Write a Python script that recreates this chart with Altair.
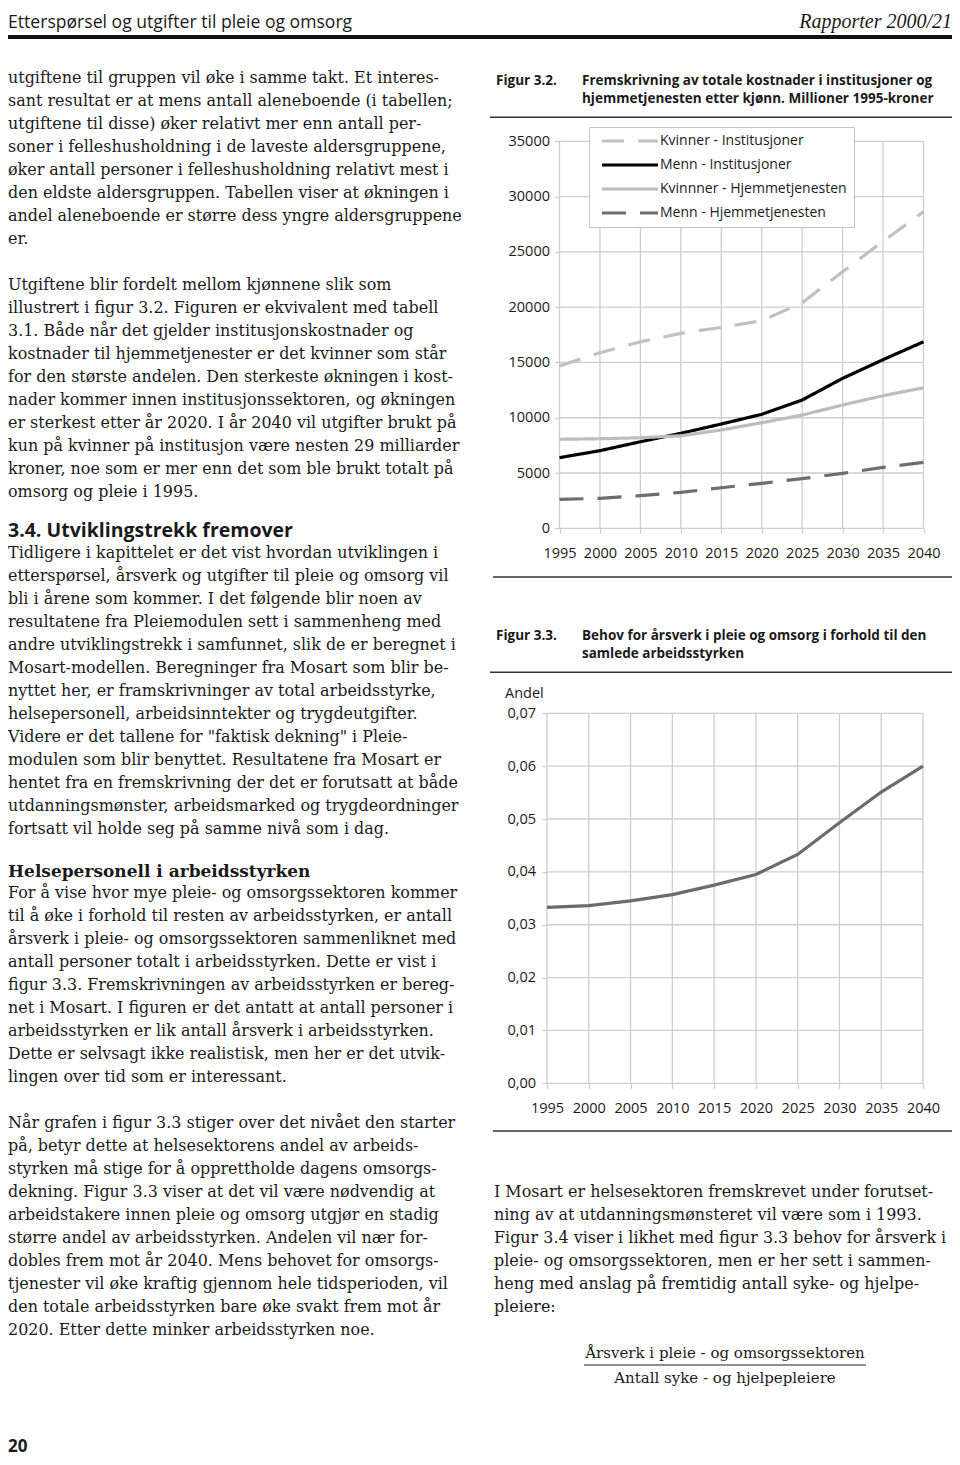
import altair as alt
import pandas as pd

# ---------------- data ----------------
years = [1995, 2000, 2005, 2010, 2015, 2020, 2025, 2030, 2035, 2040]
series_names = ["Kvinner - Institusjoner", "Menn - Institusjoner",
                "Kvinnner - Hjemmetjenesten", "Menn - Hjemmetjenesten"]
kvinner_institusjoner = [14680, 15880, 16870, 17630, 18170, 18770, 20400, 23200, 25960, 28630]
menn_institusjoner = [6390, 7020, 7830, 8590, 9430, 10310, 11600, 13560, 15250, 16870]
kvinner_hjemmetjenesten = [8050, 8100, 8190, 8370, 8890, 9550, 10240, 11150, 11990, 12710]
menn_hjemmetjenesten = [2620, 2710, 2950, 3250, 3670, 4070, 4490, 4970, 5510, 5970]
andel_arsverk = [0.0333, 0.0336, 0.0345, 0.0357, 0.0375, 0.0395, 0.0433, 0.0493, 0.0551, 0.0600]
fig32_y_ticks = [0, 5000, 10000, 15000, 20000, 25000, 30000, 35000]
fig33_y_ticks = [0.00, 0.01, 0.02, 0.03, 0.04, 0.05, 0.06, 0.07]

# ---------------- page text ----------------
header_left = "Etterspørsel og utgifter til pleie og omsorg"
header_right = "Rapporter 2000/21"
fig32_label = "Figur 3.2."
fig32_title = ["Fremskrivning av totale kostnader i institusjoner og",
               "hjemmetjenesten etter kjønn. Millioner 1995-kroner"]
fig33_label = "Figur 3.3."
fig33_title = ["Behov for årsverk i pleie og omsorg i forhold til den",
               "samlede arbeidsstyrken"]
fig33_axis_title = "Andel"
left_p1 = [
    "utgiftene til gruppen vil øke i samme takt. Et interes-",
    "sant resultat er at mens antall aleneboende (i tabellen;",
    "utgiftene til disse) øker relativt mer enn antall per-",
    "soner i felleshusholdning i de laveste aldersgruppene,",
    "øker antall personer i felleshusholdning relativt mest i",
    "den eldste aldersgruppen. Tabellen viser at økningen i",
    "andel aleneboende er større dess yngre aldersgruppene",
    "er.",
]
left_p2 = [
    "Utgiftene blir fordelt mellom kjønnene slik som",
    "illustrert i figur 3.2. Figuren er ekvivalent med tabell",
    "3.1. Både når det gjelder institusjonskostnader og",
    "kostnader til hjemmetjenester er det kvinner som står",
    "for den største andelen. Den sterkeste økningen i kost-",
    "nader kommer innen institusjonssektoren, og økningen",
    "er sterkest etter år 2020. I år 2040 vil utgifter brukt på",
    "kun på kvinner på institusjon være nesten 29 milliarder",
    "kroner, noe som er mer enn det som ble brukt totalt på",
    "omsorg og pleie i 1995.",
]
heading_34 = "3.4. Utviklingstrekk fremover"
left_p3 = [
    "Tidligere i kapittelet er det vist hvordan utviklingen i",
    "etterspørsel, årsverk og utgifter til pleie og omsorg vil",
    "bli i årene som kommer. I det følgende blir noen av",
    "resultatene fra Pleiemodulen sett i sammenheng med",
    "andre utviklingstrekk i samfunnet, slik de er beregnet i",
    "Mosart-modellen. Beregninger fra Mosart som blir be-",
    "nyttet her, er framskrivninger av total arbeidsstyrke,",
    "helsepersonell, arbeidsinntekter og trygdeutgifter.",
    "Videre er det tallene for \"faktisk dekning\" i Pleie-",
    "modulen som blir benyttet. Resultatene fra Mosart er",
    "hentet fra en fremskrivning der det er forutsatt at både",
    "utdanningsmønster, arbeidsmarked og trygdeordninger",
    "fortsatt vil holde seg på samme nivå som i dag.",
]
heading_helse = "Helsepersonell i arbeidsstyrken"
left_p4 = [
    "For å vise hvor mye pleie- og omsorgssektoren kommer",
    "til å øke i forhold til resten av arbeidsstyrken, er antall",
    "årsverk i pleie- og omsorgssektoren sammenliknet med",
    "antall personer totalt i arbeidsstyrken. Dette er vist i",
    "figur 3.3. Fremskrivningen av arbeidsstyrken er bereg-",
    "net i Mosart. I figuren er det antatt at antall personer i",
    "arbeidsstyrken er lik antall årsverk i arbeidsstyrken.",
    "Dette er selvsagt ikke realistisk, men her er det utvik-",
    "lingen over tid som er interessant.",
]
left_p5 = [
    "Når grafen i figur 3.3 stiger over det nivået den starter",
    "på, betyr dette at helsesektorens andel av arbeids-",
    "styrken må stige for å opprettholde dagens omsorgs-",
    "dekning. Figur 3.3 viser at det vil være nødvendig at",
    "arbeidstakere innen pleie og omsorg utgjør en stadig",
    "større andel av arbeidsstyrken. Andelen vil nær for-",
    "dobles frem mot år 2040. Mens behovet for omsorgs-",
    "tjenester vil øke kraftig gjennom hele tidsperioden, vil",
    "den totale arbeidsstyrken bare øke svakt frem mot år",
    "2020. Etter dette minker arbeidsstyrken noe.",
]
right_p1 = [
    "I Mosart er helsesektoren fremskrevet under forutset-",
    "ning av at utdanningsmønsteret vil være som i 1993.",
    "Figur 3.4 viser i likhet med figur 3.3 behov for årsverk i",
    "pleie- og omsorgssektoren, men er her sett i sammen-",
    "heng med anslag på fremtidig antall syke- og hjelpe-",
    "pleiere:",
]
formula_top = "Årsverk i pleie - og omsorgssektoren"
formula_bottom = "Antall syke - og hjelpepleiere"
page_number = "20"

# ---------------- layout (page pixel coordinates) ----------------
OFF = 8            # page margin
W, H = 944, 1449   # canvas
LH = 23.0          # body line height
BODY_FONT, BODY_SIZE = "DejaVu Serif", 15.95
SANS = "Open Sans"
INK = "#1a1a1a"


def cx(x):
    return max(x - OFF, 0)


def cy(y):
    return y - OFF


def block(lines, x_page, y_first, lh=LH):
    return [(cx(x_page), cy(y_first + i * lh), t) for i, t in enumerate(lines)]


def text_layer(rows, font, size, weight="normal", style="normal", align="left", color=INK):
    df = pd.DataFrame(rows, columns=["px", "py", "t"])
    return alt.Chart(df).mark_text(
        font=font, fontSize=size, fontWeight=weight, fontStyle=style,
        align=align, baseline="alphabetic", color=color
    ).encode(
        x=alt.X("px:Q", scale=None, axis=None),
        y=alt.Y("py:Q", scale=None, axis=None),
        text="t:N",
    )


def rule_layer(rows, width, color):
    df = pd.DataFrame(rows, columns=["xa", "xb", "yy"])
    return alt.Chart(df).mark_rule(strokeWidth=width, color=color).encode(
        x=alt.X("xa:Q", scale=None, axis=None),
        x2="xb:Q",
        y=alt.Y("yy:Q", scale=None, axis=None),
    )


body_rows = (block(left_p1, 3, 83) + block(left_p2, 3, 290) + block(left_p3, 3, 558)
             + block(left_p4, 3, 898) + block(left_p5, 3, 1128) + block(right_p1, 494, 1196.5))

layers = [
    rule_layer([(cx(0), W, cy(37))], 4, "#111111"),
    rule_layer([(cx(490), W, cy(117.3)), (cx(493), W, cy(577)),
                (cx(490), W, cy(672.3)), (cx(493), W, cy(1131))], 1.4, "#333333"),
    rule_layer([(cx(584), cx(866), cy(1365))], 1.1, "#222222"),
    text_layer([(cx(3), cy(27.5), header_left)], SANS, 17.6),
    text_layer([(W, cy(27.5), header_right)], "Liberation Serif", 20, style="italic", align="right"),
    text_layer([(cx(496), cy(85), fig32_label), (cx(496), cy(640), fig33_label)]
               + block(fig32_title, 582, 85, 17.7) + block(fig33_title, 582, 640, 17.7),
               SANS, 13.5, weight="bold"),
    text_layer([(cx(505), cy(698.3), fig33_axis_title)], SANS, 14.5),
    text_layer([(cx(3), cy(536.5), heading_34)], SANS, 19.5, weight="bold"),
    text_layer([(cx(3), cy(877), heading_helse)], BODY_FONT, 17, weight="bold"),
    text_layer(body_rows, BODY_FONT, BODY_SIZE),
    text_layer([(cx(725), cy(1358), formula_top), (cx(725), cy(1383), formula_bottom)],
               BODY_FONT, 15, align="center"),
    text_layer([(cx(3), cy(1451.5), page_number)], SANS, 17, weight="bold"),
]

# ---------------- shared axis styling ----------------
GRID = "#cdcdcd"
axis_common = dict(domain=False, grid=False, title=None, labelFont=SANS, labelFontSize=14.5,
                   labelColor=INK, tickColor=GRID, tickWidth=1.3, tickSize=5,
                   labelFlush=False, labelOverlap=False)

# ---------------- Figure 3.2 ----------------
sx1 = alt.Scale(domain=[1995, 2040], range=[cx(559.5), cx(923.5)], nice=False, zero=False)
sy1 = alt.Scale(domain=[0, 35000], range=[cy(528.3), cy(141.3)], nice=False, zero=False)
ax1x = alt.Axis(orient="bottom", offset=cy(528.3) - H, values=years, format="d",
                labelPadding=13, **axis_common)
ax1y = alt.Axis(orient="left", offset=-cx(559.5), values=fig32_y_ticks, format="d",
                labelPadding=5, **axis_common)

rows = []
for name, vals in zip(series_names, [kvinner_institusjoner, menn_institusjoner,
                                     kvinner_hjemmetjenesten, menn_hjemmetjenesten]):
    for yr, v in zip(years, vals):
        rows.append({"year": yr, "value": v, "series": name})
df32 = pd.DataFrame(rows)

vgrid1 = pd.DataFrame({"year": years, "lo": 0, "hi": 35000})
hgrid1 = pd.DataFrame({"v": fig32_y_ticks, "a": 1995, "b": 2040})

leg = alt.Legend(orient="none", legendX=cx(589), legendY=cy(127), title=None,
                 fillColor="white", strokeColor="#c4c4c4", padding=6.5,
                 symbolType="M-0.18,0L9.82,0", symbolSize=125.4, symbolStrokeWidth=3,
                 labelFont=SANS, labelFontSize=14, labelColor=INK, labelOffset=49.5,
                 rowPadding=9, labelLimit=400)

fig32 = alt.layer(
    alt.Chart(vgrid1).mark_rule(color=GRID, strokeWidth=1.3).encode(
        x=alt.X("year:Q", scale=sx1, axis=ax1x),
        y=alt.Y("lo:Q", scale=sy1, axis=ax1y), y2="hi:Q"),
    alt.Chart(hgrid1).mark_rule(color=GRID, strokeWidth=1.3).encode(
        x=alt.X("a:Q", scale=sx1, axis=ax1x), x2="b:Q",
        y=alt.Y("v:Q", scale=sy1, axis=ax1y)),
    alt.Chart(df32).mark_line(strokeWidth=3.2).encode(
        x=alt.X("year:Q", scale=sx1, axis=ax1x),
        y=alt.Y("value:Q", scale=sy1, axis=ax1y),
        color=alt.Color("series:N", legend=leg, scale=alt.Scale(
            domain=series_names, range=["#c0c0c0", "#000000", "#bcbcbc", "#6d6d6d"])),
        strokeDash=alt.StrokeDash("series:N", legend=leg, scale=alt.Scale(
            domain=series_names, range=[[22, 14], [1, 0], [1, 0], [24, 14]])),
    ),
)

# ---------------- Figure 3.3 ----------------
sx2 = alt.Scale(domain=[1995, 2040], range=[cx(547), cx(923)], nice=False, zero=False)
sy2 = alt.Scale(domain=[0, 0.07], range=[cy(1083.3), cy(713.3)], nice=False, zero=False)
ax2x = alt.Axis(orient="bottom", offset=cy(1083.3) - H, values=years, format="d",
                labelPadding=13, **axis_common)
ax2y = alt.Axis(orient="left", offset=-cx(547), values=fig33_y_ticks,
                labelExpr="replace(format(datum.value, '.2f'), '.', ',')",
                labelPadding=6.5, **axis_common)

df33 = pd.DataFrame({"year": years, "andel": andel_arsverk})
vgrid2 = pd.DataFrame({"year": years, "lo": 0.0, "hi": 0.07})
hgrid2 = pd.DataFrame({"v": fig33_y_ticks, "a": 1995, "b": 2040})

fig33 = alt.layer(
    alt.Chart(vgrid2).mark_rule(color=GRID, strokeWidth=1.3).encode(
        x=alt.X("year:Q", scale=sx2, axis=ax2x),
        y=alt.Y("lo:Q", scale=sy2, axis=ax2y), y2="hi:Q"),
    alt.Chart(hgrid2).mark_rule(color=GRID, strokeWidth=1.3).encode(
        x=alt.X("a:Q", scale=sx2, axis=ax2x), x2="b:Q",
        y=alt.Y("v:Q", scale=sy2, axis=ax2y)),
    alt.Chart(df33).mark_line(strokeWidth=3.2, color="#6b6b6b").encode(
        x=alt.X("year:Q", scale=sx2, axis=ax2x),
        y=alt.Y("andel:Q", scale=sy2, axis=ax2y)),
)

chart = alt.layer(*layers, fig32, fig33).resolve_scale(
    x="independent", y="independent"
).properties(
    width=W, height=H, padding=0, autosize=alt.AutoSizeParams(type="none")
).configure_view(stroke=None)

chart.save("out.html", embed_options={"renderer": "svg", "actions": False})
